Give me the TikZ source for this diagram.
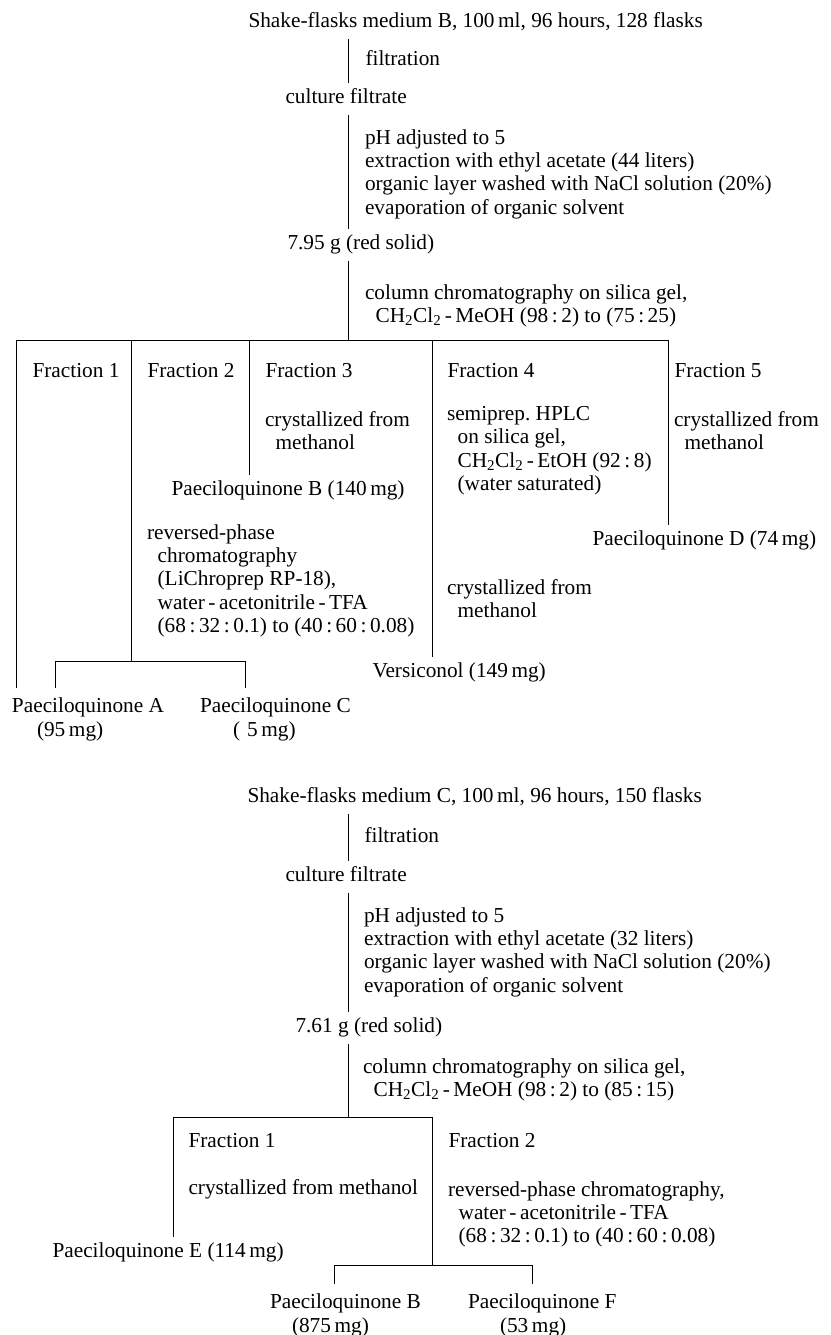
\documentclass[tikz,border=0pt]{standalone}
\usepackage{fontspec}
\setmainfont{Liberation Serif}
\newcommand{\ind}{\hspace*{0.5em}}
\frenchspacing

\begin{document}
\begin{tikzpicture}[x=1pt, y=-1pt, line width=1pt,
        lbl/.style={font=\fontsize{21.3}{23.3}\selectfont, anchor=west, inner xsep=0pt, inner ysep=6pt, text height=14pt, text depth=5pt},
        steps/.style={font=\fontsize{21.3}{23.3}\selectfont, anchor=north west, align=left, inner sep=0pt, outer xsep=0pt, execute at begin node={\rule{0pt}{14pt}}},
        prod/.style={steps, outer ysep=10pt}]
        \useasboundingbox (0,0) rectangle (830,1335);

        % Medium B
        \node[lbl] (titleB) at (248,23) {Shake-flasks medium B, 100\,ml, 96 hours, 128 flasks};
        \node[lbl] (filtB) at (365,61) {filtration};
        \node[lbl] (cultB) at (285,99) {culture filtrate};
        \node[steps] (workB) at (365,129) {pH adjusted to 5\\extraction with ethyl acetate (44 liters)\\organic layer washed with NaCl solution (20\%)\\evaporation of organic solvent};
        \node[lbl] (solidB) at (287,245) {7.95 g (red solid)};
        \node[steps] (colB) at (365,284) {column chromatography on silica gel,\\\ind CH\textsubscript{2}Cl\textsubscript{2}\,-\,MeOH (98\,:\,2) to (75\,:\,25)};

        \coordinate (splitB) at (348,340);
        \coordinate (dB1) at (16,340);
        \coordinate (dB2) at (131,340);
        \coordinate (dB3) at (249,340);
        \coordinate (dB4) at (432,340);
        \coordinate (dB5) at (668,340);
        \draw (titleB.south -| splitB) -- (cultB.north -| splitB);
        \draw (cultB.south -| splitB) -- (solidB.north -| splitB);
        \draw (solidB.south -| splitB) -- (splitB);
        \draw (dB1) -- (dB5);

        % Fractions B
        \node[lbl] (fB1) at (32,373) {Fraction 1};
        \node[lbl] (fB2) at (147,373) {Fraction 2};
        \node[lbl] (fB3) at (265,373) {Fraction 3};
        \node[lbl] (fB4) at (447,373) {Fraction 4};
        \node[lbl] (fB5) at (674,373) {Fraction 5};

        \node[steps] (crB3) at (265,411) {crystallized from\\\ind methanol};
        \node[steps] (hplcB4) at (447,406) {semiprep. HPLC\\\ind on silica gel,\\\ind CH\textsubscript{2}Cl\textsubscript{2}\,-\,EtOH (92\,:\,8)\\\ind (water saturated)};
        \node[steps] (crB5) at (674,411) {crystallized from\\\ind methanol};
        \node[lbl] (pqB1) at (171,491) {Paeciloquinone B (140\,mg)};
        \node[lbl] (pqD) at (592,541) {Paeciloquinone D (74\,mg)};
        \node[steps] (rpB2) at (147,524) {reversed-phase\\\ind chromatography\\\ind (LiChroprep RP-18),\\\ind water\,-\,acetonitrile\,-\,TFA\\\ind (68\,:\,32\,:\,0.1) to (40\,:\,60\,:\,0.08)};
        \node[steps] (crB4) at (447,579) {crystallized from\\\ind methanol};
        \node[lbl] (versi) at (372,673) {Versiconol (149\,mg)};
        \node[prod] (pqA) at (12,688) {Paeciloquinone A\\\hspace*{25pt}(95\,mg)};
        \node[prod] (pqC) at (200,688) {Paeciloquinone C\\\hspace*{33pt}(\,\,5\,mg)};

        \coordinate (jB2) at (131,661);
        \coordinate (legA) at (55,661);
        \coordinate (legC) at (245,661);
        \draw (dB1) -- (pqA.north -| dB1);
        \draw (dB2) -- (jB2);
        \draw (pqA.north -| legA) -- (legA) -- (legC) -- (pqC.north -| legC);
        \draw (dB3) -- (pqB1.north -| dB3);
        \draw (dB4) -- (versi.north -| dB4);
        \draw (dB5) -- (pqD.north -| dB5);

        % Medium C
        \node[lbl] (titleC) at (247,798) {Shake-flasks medium C, 100\,ml, 96 hours, 150 flasks};
        \node[lbl] (filtC) at (364,838) {filtration};
        \node[lbl] (cultC) at (285,877) {culture filtrate};
        \node[steps] (workC) at (364,907) {pH adjusted to 5\\extraction with ethyl acetate (32 liters)\\organic layer washed with NaCl solution (20\%)\\evaporation of organic solvent};
        \node[lbl] (solidC) at (295,1028) {7.61 g (red solid)};
        \node[steps] (colC) at (363,1058) {column chromatography on silica gel,\\\ind CH\textsubscript{2}Cl\textsubscript{2}\,-\,MeOH (98\,:\,2) to (85\,:\,15)};

        \coordinate (splitC) at (348,1117);
        \coordinate (dC1) at (173,1117);
        \coordinate (dC2) at (432,1117);
        \draw (titleC.south -| splitC) -- (cultC.north -| splitC);
        \draw (cultC.south -| splitC) -- (solidC.north -| splitC);
        \draw (solidC.south -| splitC) -- (splitC);
        \draw (dC1) -- (dC2);

        % Fractions C
        \node[lbl] (fC1) at (188,1143) {Fraction 1};
        \node[lbl] (fC2) at (448,1143) {Fraction 2};
        \node[lbl] (crC1) at (188,1190) {crystallized from methanol};
        \node[steps] (rpC2) at (448,1181) {reversed-phase chromatography,\\\ind water\,-\,acetonitrile\,-\,TFA\\\ind (68\,:\,32\,:\,0.1) to (40\,:\,60\,:\,0.08)};
        \node[lbl] (pqE) at (52,1253) {Paeciloquinone E (114\,mg)};
        \node[prod] (pqB2) at (270,1284) {Paeciloquinone B\\\hspace*{22pt}(875\,mg)};
        \node[prod] (pqF) at (468,1284) {Paeciloquinone F\\\hspace*{32pt}(53\,mg)};

        \coordinate (jC2) at (432,1265);
        \coordinate (legB) at (334,1265);
        \coordinate (legF) at (532,1265);
        \draw (dC1) -- (pqE.north -| dC1);
        \draw (dC2) -- (jC2);
        \draw (pqB2.north -| legB) -- (legB) -- (legF) -- (pqF.north -| legF);
    \end{tikzpicture}
\end{document}
